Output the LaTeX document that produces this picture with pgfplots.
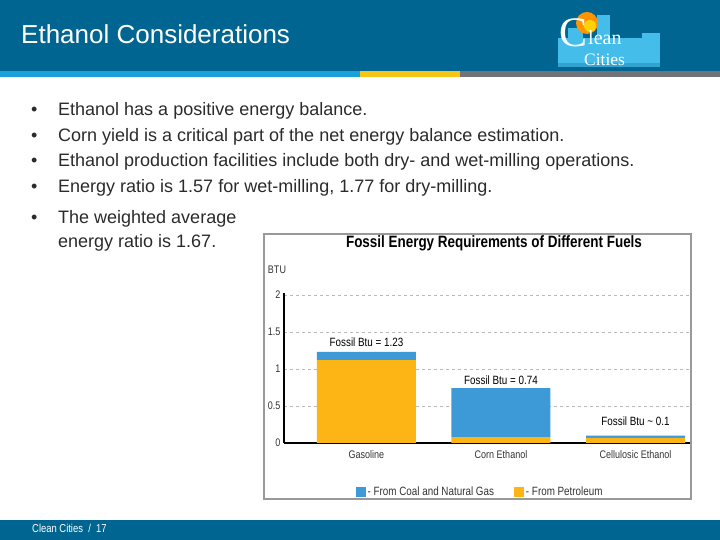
\documentclass[border=0pt]{standalone}
\usepackage{pgfplots}
\pgfplotsset{compat=1.18}
\usepackage{fontspec}
\setmainfont{Liberation Sans}
\newfontfamily\cond[FakeStretch=0.82]{Liberation Sans}
\newfontfamily\logofont{Liberation Serif}

\definecolor{hdrblue}{HTML}{006691}
\definecolor{stripeblue}{HTML}{1AA0DB}
\definecolor{stripeyellow}{HTML}{F5C518}
\definecolor{stripegray}{HTML}{707378}
\definecolor{logoblue}{HTML}{45BDEB}
\definecolor{bodytext}{HTML}{2B2B2B}
\definecolor{charttext}{HTML}{333333}
\definecolor{coalblue}{HTML}{3E9AD6}
\definecolor{petroyellow}{HTML}{FDB515}

\begin{document}
\begin{tikzpicture}[x=1pt,y=1pt]
% slide background and header
\fill[white] (0,0) rectangle (720,540);
\fill[hdrblue] (0,469) rectangle (720,540);
\fill[stripeblue] (0,463) rectangle (360,469);
\fill[stripeyellow] (360,463) rectangle (460,469);
\fill[stripegray] (460,463) rectangle (720,469);
\fill[hdrblue] (0,0) rectangle (720,20);
\node[anchor=base west, inner sep=0, white, font=\fontsize{26}{28}\selectfont] at (21,496) {Ethanol Considerations};
\node[anchor=base west, inner sep=0, white, font=\cond\fontsize{11.5}{12}\selectfont] at (32,7) {Clean Cities \ / \ 17};

% logo
\fill[logoblue] (558,474) rectangle (660,502);
\fill[logoblue!70!hdrblue] (558,473) rectangle (660,477);
\fill[logoblue] (568,502) rectangle (583,512);
\fill[logoblue] (597,502) rectangle (610,525);
\fill[logoblue] (642,502) rectangle (660,507);
\fill[orange!85!yellow] (587,517) circle (11);
\fill[yellow!70!orange] (590,514) circle (6);
\node[anchor=base west, inner sep=0, white, font=\logofont\fontsize{42}{42}\selectfont] at (559,493) {C};
\node[anchor=base west, inner sep=0, white, font=\logofont\fontsize{20}{20}\selectfont] at (588,495) {lean};
\node[anchor=base west, inner sep=0, white, font=\logofont\fontsize{17.5}{18}\selectfont] at (584,474) {Cities};

% bullets
\begin{scope}[every node/.style={anchor=base west, inner sep=0, text=bodytext, font=\fontsize{18}{20}\selectfont}]
\node at (31,424) {•}; \node at (58,424) {Ethanol has a positive energy balance.};
\node at (31,398) {•}; \node at (58,398) {Corn yield is a critical part of the net energy balance estimation.};
\node at (31,373) {•}; \node at (58,373) {Ethanol production facilities include both dry- and wet-milling operations.};
\node at (31,347) {•}; \node at (58,347) {Energy ratio is 1.57 for wet-milling, 1.77 for dry-milling.};
\node at (31,316) {•}; \node at (58,316) {The weighted average};
\node at (58,292) {energy ratio is 1.67.};
\end{scope}

% chart frame and titles
\draw[gray!80, line width=1.2pt] (264,41) rectangle (691,306);
\node[text=black, font=\cond\bfseries\fontsize{16.4}{18}\selectfont] at (494,297) {Fossil Energy Requirements of Different Fuels};
\node[text=charttext, font=\cond\fontsize{11}{12}\selectfont] at (277,270) {BTU};

\begin{axis}[
    at={(284pt,97pt)}, anchor=south west,
    width=406pt, height=149.5pt, scale only axis,
    xmin=-0.613, xmax=2.405, ymin=0, ymax=2.02,
    ybar stacked, bar width=99pt,
    axis lines*=left,
    axis line style={black, line width=1.3pt},
    major tick length=0pt,
    xtick={0,1,2},
    xticklabels={Gasoline, Corn Ethanol, Cellulosic Ethanol},
    ytick={0,0.5,1,1.5,2},
    yticklabels={0,0.5,1,1.5,2},
    ymajorgrids,
    grid style={dashed, gray!55, line width=0.6pt},
    ticklabel style={text=charttext, font=\cond\fontsize{11}{12}\selectfont},
    xticklabel style={yshift=-4pt},
    legend style={at={(axis description cs:0.483,-0.328)}, anchor=center,
        draw=none, fill=none, legend columns=2,
        font=\cond\fontsize{12}{12}\selectfont, text=charttext,
        /tikz/every even column/.append style={column sep=18pt}},
    legend image code/.code={\fill[#1] (0pt,-5pt) rectangle (10pt,5pt);},
    reverse legend,
]
% From Petroleum
\addplot[fill=petroyellow, draw=none] coordinates {(0,1.12) (1,0.08) (2,0.07)};
\addlegendentry{- From Petroleum}
% From Coal and Natural Gas
\addplot[fill=coalblue, draw=none] coordinates {(0,0.11) (1,0.66) (2,0.03)};
\addlegendentry{- From Coal and Natural Gas}
\node[text=black, font=\cond\fontsize{12}{13}\selectfont] at (axis cs:0,1.365) {Fossil Btu = 1.23};
\node[text=black, font=\cond\fontsize{12}{13}\selectfont] at (axis cs:1,0.85) {Fossil Btu = 0.74};
\node[text=black, font=\cond\fontsize{12}{13}\selectfont] at (axis cs:2,0.297) {Fossil Btu \textasciitilde{} 0.1};
\end{axis}
\end{tikzpicture}
\end{document}
